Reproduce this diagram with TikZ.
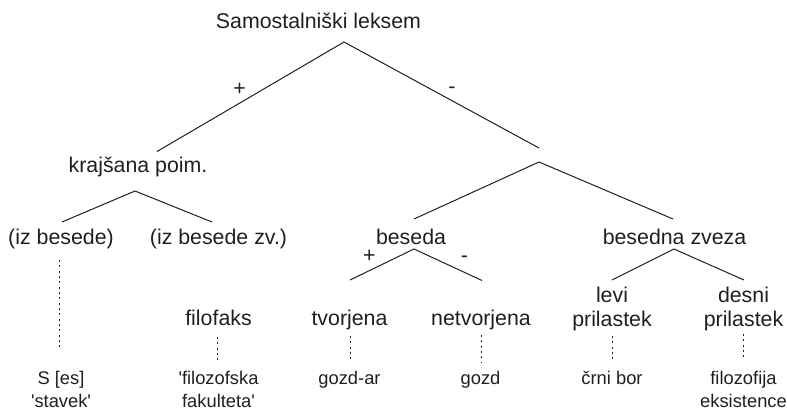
\documentclass[tikz,border=0pt]{standalone}
\usepackage{fontspec}
\setmainfont{Liberation Sans}
\usetikzlibrary{calc}

\tikzset{
	lbl/.style={font=\fontsize{16}{18}\selectfont, text=black!88, inner sep=0pt, anchor=base, align=center},
	ex/.style={font=\fontsize{13.75}{17.25}\selectfont, text=black!88, inner sep=0pt, anchor=base, align=center},
	sgn/.style={font=\fontsize{16}{18}\selectfont, text=black!88, inner sep=0pt},
	branch/.style={line width=0.75pt, color=black!88},
	link/.style={line width=0.75pt, color=black!88, dash pattern=on 1.5pt off 2.5pt},
}
\newcommand{\q}{\textquotesingle}

\begin{document}
\begin{tikzpicture}[x=0.75pt, y=-0.75pt]
			%%%%% START %%%%%
			\useasboundingbox (0, 0) rectangle (787, 411);
			
			\node[lbl] (sl) at (318.5, 28) {Samostalniški leksem};
			\coordinate (sl-a) at (344, 42);
			\coordinate (kp-t) at (157, 151.5);
			\coordinate (ne-t) at (539, 148);
			\draw[branch] (kp-t) -- (sl-a) -- (ne-t);
			\node[sgn] (sl-p) at (239.5, 89.5) {+};
			\node[sgn] (sl-m) at (452, 90) {-};
			
			%% krajsana poim.
			\node[lbl] (kp) at (138, 172) {krajšana poim.};
			\coordinate (kp-a) at (135, 191);
			\coordinate (ib-t) at (62, 222);
			\coordinate (ibz-t) at (212, 222);
			\draw[branch] (ib-t) -- (kp-a) -- (ibz-t);
			
			\node[lbl] (ib) at (61, 244) {(iz besede)};
			\node[lbl] (ibz) at (218.5, 244) {(iz besede zv.)};
			
			%% right half
			\coordinate (ne-a) at (539, 162);
			\coordinate (be-t) at (414, 219);
			\coordinate (bz-t) at (673, 219);
			\draw[branch] (be-t) -- (ne-a) -- (bz-t);
			
			\node[lbl] (be) at (411, 244) {beseda};
			\node[lbl] (bz) at (674.5, 244) {besedna zveza};
			
			\coordinate (be-a) at (414, 249);
			\coordinate (tv-t) at (350, 280);
			\coordinate (nt-t) at (482, 280.5);
			\draw[branch] (tv-t) -- (be-a) -- (nt-t);
			\node[sgn] (be-p) at (369.3, 256.7) {+};
			\node[sgn] (be-m) at (464.5, 259) {-};
			
			\coordinate (bz-a) at (674, 249);
			\coordinate (lp-t) at (612, 280);
			\coordinate (dp-t) at (744, 280);
			\draw[branch] (lp-t) -- (bz-a) -- (dp-t);
			
			\node[lbl] (ff) at (218.5, 325) {filofaks};
			\node[lbl] (tv) at (349.5, 325) {tvorjena};
			\node[lbl] (nt) at (481, 325) {netvorjena};
			\node[lbl] (lp) at (612, 326) {levi\\prilastek};
			\node[lbl] (dp) at (743.5, 326) {desni\\prilastek};
			
			%% examples
			\node[ex] (ex-s) at (61, 407.5) {S [es]\\\q stavek\q};
			\node[ex] (ex-ff) at (218.5, 407.5) {\q filozofska\\fakulteta\q};
			\node[ex] (ex-tv) at (349.5, 384.5) {gozd-ar};
			\node[ex] (ex-nt) at (480.5, 384.5) {gozd};
			\node[ex] (ex-lp) at (612, 384.5) {črni bor};
			\node[ex] (ex-dp) at (743.5, 407.5) {filozofija\\eksistence};
			
			\draw[link] ($(ib.base)+(-1.5, 16)$) -- ($(ex-s.base)+(-1.5, -58.5)$);
			\draw[link] ($(ff.base)+(-1, 12)$) -- ($(ex-ff.base)+(-1, -47.5)$);
			\draw[link] ($(tv.base)+(0.5, 11)$) -- ($(ex-tv.base)+(0.5, -22.5)$);
			\draw[link] ($(nt.base)+(0, 10)$) -- ($(ex-nt.base)+(0.5, -22.5)$);
			\draw[link] ($(lp.base)+(0, 10)$) -- ($(ex-lp.base)+(0, -26)$);
			\draw[link] ($(dp.base)+(-0.5, 8)$) -- ($(ex-dp.base)+(-0.5, -49.5)$);
			%%%%% END %%%%%
\end{tikzpicture}
\end{document}
